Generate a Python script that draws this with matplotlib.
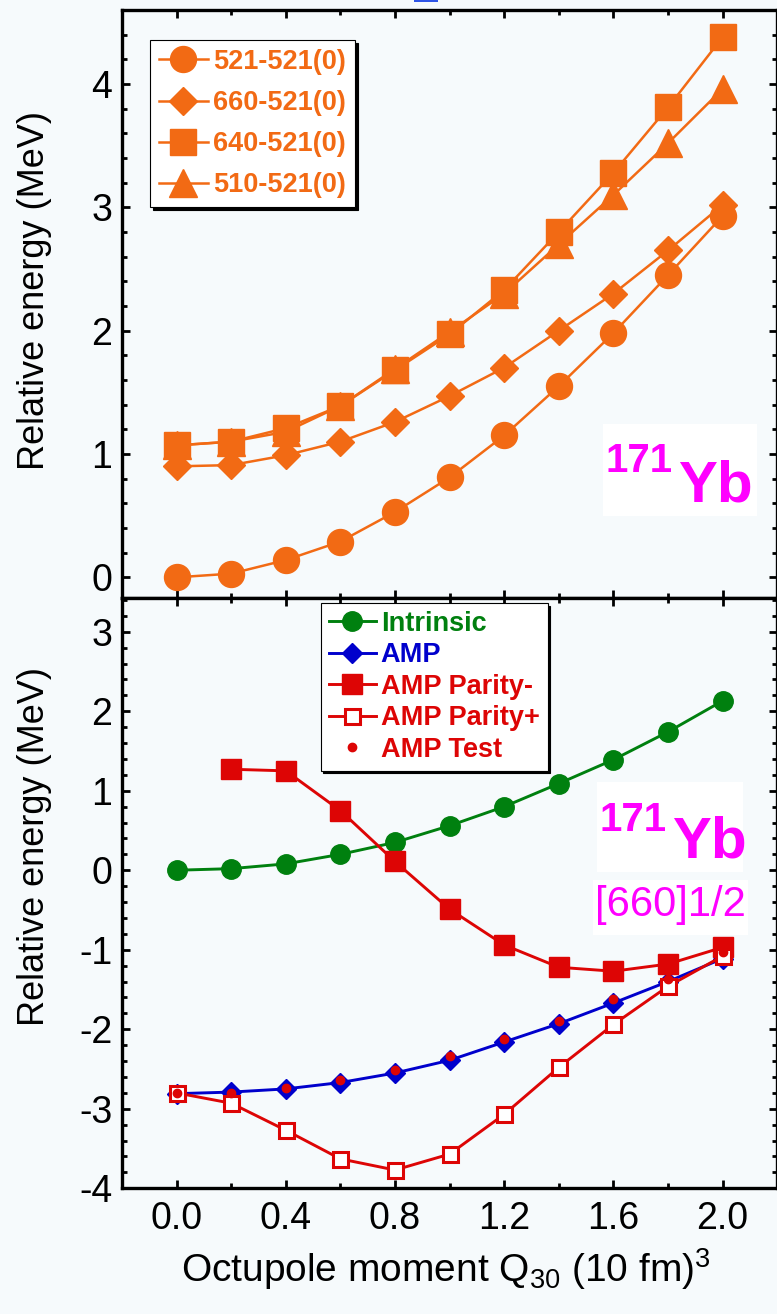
import matplotlib
matplotlib.use("Agg")
import matplotlib.pyplot as plt
from matplotlib.ticker import MultipleLocator, FormatStrFormatter
from matplotlib.patches import Rectangle

plt.rcParams["font.family"] = ["Liberation Sans", "DejaVu Sans"]
plt.rcParams["mathtext.fontset"] = "custom"
plt.rcParams["mathtext.rm"] = "Liberation Sans"
plt.rcParams["mathtext.it"] = "Liberation Sans:italic"
plt.rcParams["mathtext.bf"] = "Liberation Sans:bold"
plt.rcParams["axes.unicode_minus"] = False

# ---------------- data ----------------
q30 = [0.0, 0.2, 0.4, 0.6, 0.8, 1.0, 1.2, 1.4, 1.6, 1.8, 2.0]

# upper panel: relative energies of two-quasiparticle configurations (MeV)
e_521_521 = [0.00, 0.03, 0.14, 0.29, 0.53, 0.81, 1.15, 1.55, 1.98, 2.45, 2.93]
e_660_521 = [0.90, 0.91, 0.99, 1.10, 1.26, 1.47, 1.70, 2.00, 2.30, 2.65, 3.02]
e_640_521 = [1.07, 1.10, 1.21, 1.39, 1.68, 1.97, 2.33, 2.80, 3.28, 3.81, 4.38]
e_510_521 = [1.07, 1.10, 1.18, 1.39, 1.69, 1.99, 2.30, 2.70, 3.10, 3.52, 3.96]
top_labels = ["521-521(0)", "660-521(0)", "640-521(0)", "510-521(0)"]

# lower panel: [660]1/2 orbital, intrinsic vs angular-momentum projected
e_intrinsic = [0.00, 0.02, 0.08, 0.20, 0.35, 0.56, 0.80, 1.09, 1.39, 1.74, 2.13]
e_amp = [-2.81, -2.79, -2.75, -2.67, -2.55, -2.39, -2.16, -1.93, -1.67, -1.40, -1.11]
q30_parity_minus = [0.2, 0.4, 0.6, 0.8, 1.0, 1.2, 1.4, 1.6, 1.8, 2.0]
e_parity_minus = [1.27, 1.25, 0.75, 0.11, -0.49, -0.94, -1.22, -1.27, -1.18, -0.97]
e_parity_plus = [-2.80, -2.93, -3.27, -3.63, -3.77, -3.57, -3.07, -2.48, -1.94, -1.46, -1.08]
e_amp_test = [-2.80, -2.80, -2.74, -2.64, -2.51, -2.33, -2.12, -1.89, -1.62, -1.37, -1.03]
bottom_labels = ["Intrinsic", "AMP", "AMP Parity-", "AMP Parity+", "AMP Test"]

# ---------------- style ----------------
BG = "#f6fafc"
ORANGE = "#f26a14"
GREEN = "#00800f"
BLUE = "#0000cc"
RED = "#dd0505"
MAGENTA = "#ff00ff"

W, H = 777, 1314
fig = plt.figure(figsize=(W / 100, H / 100), dpi=100, facecolor=BG)


def fx(px):
    return px / W


def fy(py):
    return 1 - py / H


left_px, right_px = 122, 777.2
ax_top = fig.add_axes([fx(left_px), fy(598.3), (right_px - left_px) / W, (598.3 - 10) / H])
ax_bot = fig.add_axes([fx(left_px), fy(1188.3), (right_px - left_px) / W, (1188.3 - 598.3) / H])

for ax in (ax_top, ax_bot):
    ax.set_facecolor(BG)
    ax.set_xlim(-0.2, 2.2)
    ax.xaxis.set_major_locator(MultipleLocator(0.4))
    ax.xaxis.set_minor_locator(MultipleLocator(0.2))
    ax.yaxis.set_major_locator(MultipleLocator(1))
    ax.yaxis.set_minor_locator(MultipleLocator(0.2))
    ax.tick_params(which="both", direction="in", top=True, right=True, width=2.0)
    ax.tick_params(which="major", length=6)
    ax.tick_params(which="minor", length=3.5)
    ax.tick_params(axis="y", labelsize=27, pad=7)
    ax.tick_params(axis="x", labelsize=27, pad=9)
    ax.yaxis.set_major_formatter(FormatStrFormatter("%d"))
    for sp in ax.spines.values():
        sp.set_linewidth(2.4)

ax_top.set_ylim(-0.17, 4.6)
ax_top.tick_params(axis="x", labelbottom=False)
ax_bot.set_ylim(-4.0, 3.42)
ax_bot.xaxis.set_major_formatter(FormatStrFormatter("%.1f"))

# ---------------- upper panel ----------------
lw_top = 1.8
ax_top.plot(q30, e_521_521, "-o", color=ORANGE, lw=lw_top, ms=18.7, mec=ORANGE, label=top_labels[0])
ax_top.plot(q30, e_660_521, "-D", color=ORANGE, lw=lw_top, ms=14.3, mec=ORANGE, label=top_labels[1])
ax_top.plot(q30, e_640_521, "-s", color=ORANGE, lw=lw_top, ms=19.0, mec=ORANGE, label=top_labels[2])
ax_top.plot(q30, e_510_521, "-^", color=ORANGE, lw=lw_top, ms=20.0, mec=ORANGE, label=top_labels[3])

leg_top = ax_top.legend(loc="upper left", bbox_to_anchor=(0.0427, 0.949), borderaxespad=0,
                        prop={"weight": "bold", "size": 19.5}, handlelength=1.8,
                        handletextpad=0.2, borderpad=0.33, labelspacing=0.56,
                        fancybox=False, framealpha=1, facecolor="white", edgecolor="black",
                        shadow={"color": "black", "alpha": 1})
leg_top.get_frame().set_linewidth(0.8)
for txt in leg_top.get_texts():
    txt.set_color(ORANGE)

# ---------------- lower panel ----------------
lw_bot = 2.1
ax_bot.plot(q30, e_intrinsic, "-o", color=GREEN, lw=lw_bot, ms=14, mec=GREEN, label=bottom_labels[0], zorder=3)
ax_bot.plot(q30, e_amp, "-D", color=BLUE, lw=lw_bot, ms=10.5, mec=BLUE, label=bottom_labels[1], zorder=3)
ax_bot.plot(q30_parity_minus, e_parity_minus, "-s", color=RED, lw=lw_bot, ms=14, mec=RED,
            label=bottom_labels[2], zorder=4)
ax_bot.plot(q30, e_parity_plus, "-s", color=RED, lw=lw_bot, ms=10.8, mfc="white", mec=RED, mew=2.2,
            label=bottom_labels[3], zorder=5)
ax_bot.plot(q30, e_amp_test, "o", color=RED, ms=6, mec=RED, ls="none", label=bottom_labels[4], zorder=6)

leg_bot = ax_bot.legend(loc="upper left", bbox_to_anchor=(0.303, 0.9925), borderaxespad=0,
                        prop={"weight": "bold", "size": 19.5}, handlelength=1.75,
                        handletextpad=0.17, borderpad=0.3, labelspacing=0.2,
                        fancybox=False, framealpha=1, facecolor="white", edgecolor="black",
                        shadow={"color": "black", "alpha": 1})
leg_bot.get_frame().set_linewidth(0.8)
for txt, line in zip(leg_bot.get_texts(), leg_bot.get_lines()):
    txt.set_color(line.get_color())

# ---------------- nucleus labels ----------------
def nucleus_label(box, sup_xy, yb_xy):
    x0, y0, x1, y1 = box
    fig.patches.append(Rectangle((fx(x0), fy(y1)), fx(x1) - fx(x0), fy(y0) - fy(y1),
                                 transform=fig.transFigure, facecolor="white",
                                 edgecolor="none", zorder=5))
    fig.text(fx(sup_xy[0]), fy(sup_xy[1]), "171", color=MAGENTA, fontsize=29,
             fontweight="bold", ha="left", va="baseline", zorder=6)
    fig.text(fx(yb_xy[0]), fy(yb_xy[1]), "Yb", color=MAGENTA, fontsize=42,
             fontweight="bold", ha="left", va="baseline", zorder=6)


nucleus_label((603, 424, 757, 516), (606, 472), (678, 501))
nucleus_label((597, 782, 743, 872), (600, 831), (672, 858))

fig.patches.append(Rectangle((fx(593), fy(935)), fx(748) - fx(593), fy(880) - fy(935),
                             transform=fig.transFigure, facecolor="white",
                             edgecolor="none", zorder=5))
fig.text(fx(670), fy(916), "[660]1/2", color=MAGENTA, fontsize=30,
         ha="center", va="baseline", zorder=6)

# ---------------- axis titles ----------------
fig.text(fx(35), fy(291), "Relative energy (MeV)", rotation=90, fontsize=26,
         ha="center", va="center")
fig.text(fx(35), fy(846), "Relative energy (MeV)", rotation=90, fontsize=26,
         ha="center", va="center")
fig.text(fx(446), fy(1282), "Octupole moment Q$_{30}$ (10 fm)$^{3}$", fontsize=28,
         ha="center", va="baseline")

# small blue mark at the top edge
fig.patches.append(Rectangle((fx(414), fy(2)), fx(438) - fx(414), 2 / H,
                             transform=fig.transFigure, facecolor="#2f55e6",
                             edgecolor="none", zorder=7))

fig.savefig("out.png", dpi=100, facecolor=BG)
